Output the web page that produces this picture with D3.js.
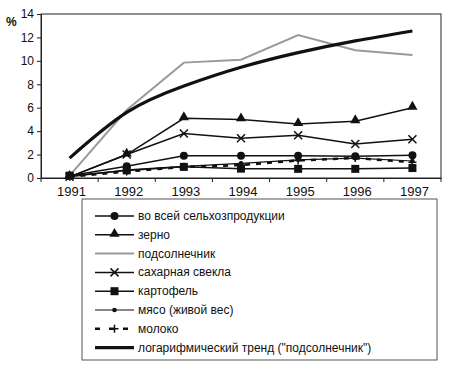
<!DOCTYPE html>
<html lang="ru">
<head>
<meta charset="UTF-8">
<title>chart</title>
<style>
  body { margin: 0; background: #fff; }
  text { font-family: "Liberation Sans", Arial, sans-serif; fill: #111; }
</style>
</head>
<body>
<script src="https://cdn.jsdelivr.net/npm/d3@7/dist/d3.min.js"></script>
<script>
var years = ['1991', '1992', '1993', '1994', '1995', '1996', '1997'];
var yTicks = [0, 2, 4, 6, 8, 10, 12, 14];

var allProd   = [0.2, 1.0, 1.9, 1.9, 1.9, 1.85, 1.95];
var grain     = [0.1, 2.0, 5.1, 5.0, 4.6, 4.85, 6.0];
var sunflower = [0.2, 5.8, 9.85, 10.1, 12.2, 10.9, 10.5];
var sugarBeet = [0.1, 2.0, 3.8, 3.4, 3.65, 2.9, 3.3];
var potato    = [0.2, 0.65, 0.95, 0.8, 0.78, 0.78, 0.85];
var meat      = [0.1, 0.7, 1.0, 1.25, 1.55, 1.7, 1.45];
var milk      = [0.1, 0.55, 0.95, 1.1, 1.5, 1.7, 1.35];
var trend     = [1.7, 5.6, 7.85, 9.45, 10.7, 11.7, 12.55];

var legendNames = ['во всей сельхозпродукции', 'зерно', 'подсолнечник', 'сахарная свекла',
  'картофель', 'мясо (живой вес)', 'молоко', 'логарифмический тренд ("подсолнечник")'];

var width = 460, height = 368;
var plot = {left: 41, right: 441, top: 14, bottom: 178};

var svg = d3.select('body').append('svg')
  .attr('width', width)
  .attr('height', height);

var xScale = d3.scaleBand().domain(years).range([plot.left, plot.right]);
var yScale = d3.scaleLinear().domain([0, 14]).range([plot.bottom, plot.top]);
var cx = function(i) { return xScale(years[i]) + xScale.bandwidth() / 2; };

// frame
svg.append('rect')
  .attr('x', plot.left).attr('y', plot.top)
  .attr('width', plot.right - plot.left).attr('height', plot.bottom - plot.top)
  .attr('fill', 'none').attr('stroke', '#222').attr('stroke-width', 1);

// y axis
var yAxis = d3.axisLeft(yScale).tickValues(yTicks).tickSize(4).tickPadding(3);
var gy = svg.append('g').attr('transform', 'translate(' + plot.left + ',0)').call(yAxis);
gy.selectAll('text').style('font-size', '12px').attr('fill', '#111');
gy.selectAll('line, path').attr('stroke', '#222');

// x axis (ticks between categories)
var xAxis = d3.axisBottom(xScale).tickSize(0).tickPadding(9);
var gx = svg.append('g').attr('transform', 'translate(0,' + plot.bottom + ')').call(xAxis);
gx.selectAll('text').style('font-size', '13px').attr('fill', '#111').attr('dx', 2);
gx.select('.domain').attr('stroke', '#222');
gx.selectAll('.sep').data(d3.range(years.length + 1)).enter()
  .append('line')
  .attr('x1', function(d) { return plot.left + d * xScale.step(); })
  .attr('x2', function(d) { return plot.left + d * xScale.step(); })
  .attr('y1', 0).attr('y2', 4)
  .attr('stroke', '#222');

svg.append('text').attr('x', 6).attr('y', 26).style('font-size', '12px')
  .style('font-weight', 'bold').text('%');

// markers
function marker(g, type, x, y) {
  if (type === 'circle') {
    g.append('circle').attr('cx', x).attr('cy', y).attr('r', 4).attr('fill', '#111');
  } else if (type === 'smallcircle') {
    g.append('circle').attr('cx', x).attr('cy', y).attr('r', 2.3).attr('fill', '#111');
  } else if (type === 'triangle') {
    g.append('path').attr('d', d3.symbol().type(d3.symbolTriangle).size(45)())
      .attr('transform', 'translate(' + x + ',' + (y - 1) + ')').attr('fill', '#111');
  } else if (type === 'square') {
    g.append('rect').attr('x', x - 4).attr('y', y - 4).attr('width', 8).attr('height', 8).attr('fill', '#111');
  } else if (type === 'x') {
    g.append('path').attr('d', 'M-4,-4L4,4M-4,4L4,-4')
      .attr('transform', 'translate(' + x + ',' + y + ')')
      .attr('stroke', '#111').attr('stroke-width', 1.5);
  } else if (type === 'plus') {
    g.append('path').attr('d', 'M-4,0L4,0M0,-4L0,4')
      .attr('transform', 'translate(' + x + ',' + y + ')')
      .attr('stroke', '#111').attr('stroke-width', 1.5);
  }
}

var series = [
  {data: allProd, color: '#111', width: 1.5, marker: 'circle'},
  {data: grain, color: '#111', width: 1.5, marker: 'triangle'},
  {data: sunflower, color: '#9a9a9a', width: 2, marker: null},
  {data: sugarBeet, color: '#111', width: 1.5, marker: 'x'},
  {data: potato, color: '#111', width: 1.5, marker: 'square'},
  {data: meat, color: '#111', width: 1.2, marker: 'smallcircle'},
  {data: milk, color: '#111', width: 2.5, marker: 'plus', dash: '5,6'},
  {data: trend, color: '#111', width: 3.2, marker: null, curve: true}
];

var line = d3.line()
  .x(function(d, i) { return cx(i); })
  .y(function(d) { return yScale(d); });

var drawOrder = [2, 7, 1, 3, 0, 6, 5, 4];
drawOrder.forEach(function(k) {
  var s = series[k];
  var g = svg.append('g');
  g.append('path')
    .attr('d', line.curve(s.curve ? d3.curveNatural : d3.curveLinear)(s.data))
    .attr('fill', 'none')
    .attr('stroke', s.color)
    .attr('stroke-width', s.width)
    .attr('stroke-dasharray', s.dash || null);
  if (s.marker) {
    s.data.forEach(function(v, i) { marker(g, s.marker, cx(i), yScale(v)); });
  }
});

// legend
var legend = {x: 82, y: 199, w: 355, h: 161, row: 18.8, first: 216};
svg.append('rect')
  .attr('x', legend.x).attr('y', legend.y)
  .attr('width', legend.w).attr('height', legend.h)
  .attr('fill', 'none').attr('stroke', '#555').attr('stroke-width', 1);

legendNames.forEach(function(name, i) {
  var s = series[i];
  var y = legend.first + i * legend.row;
  var g = svg.append('g');
  g.append('line')
    .attr('x1', 95).attr('x2', 134).attr('y1', y).attr('y2', y)
    .attr('stroke', s.color)
    .attr('stroke-width', s.width)
    .attr('stroke-dasharray', s.dash ? '5,9' : null);
  if (s.marker) marker(g, s.marker, 114.5, y);
  g.append('text').attr('x', 138).attr('y', y + 4)
    .style('font-size', '12px').text(name);
});
</script>
</body>
</html>
